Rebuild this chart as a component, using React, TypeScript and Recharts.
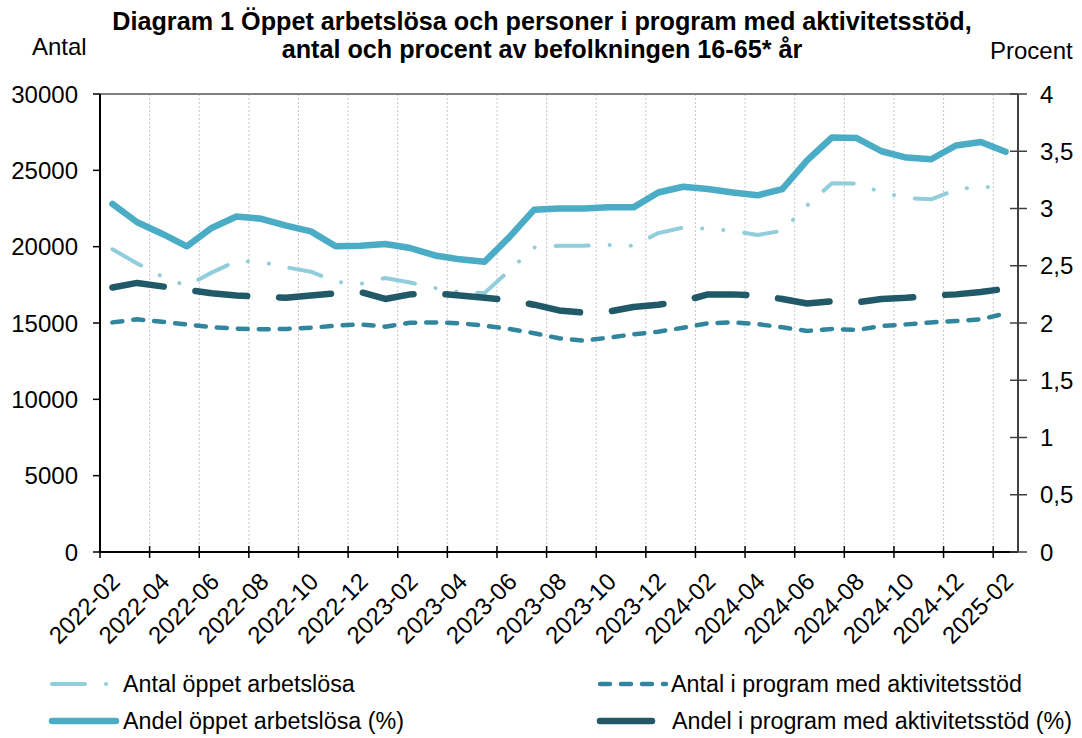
import { LineChart, Line, XAxis, YAxis, CartesianGrid, Legend, ReferenceLine } from 'recharts';

const months = [
  '2022-02', '2022-03', '2022-04', '2022-05', '2022-06', '2022-07', '2022-08', '2022-09', '2022-10', '2022-11', '2022-12',
  '2023-01', '2023-02', '2023-03', '2023-04', '2023-05', '2023-06', '2023-07', '2023-08', '2023-09', '2023-10', '2023-11', '2023-12',
  '2024-01', '2024-02', '2024-03', '2024-04', '2024-05', '2024-06', '2024-07', '2024-08', '2024-09', '2024-10', '2024-11', '2024-12',
  '2025-01', '2025-02',
];

// Antal (vänster axel)
const antalOppet = [
  19830, 18900, 18050, 17420, 18300, 19060, 19000, 18650, 18360, 17690, 17560,
  17950, 17650, 17290, 17030, 16960, 18450, 19950, 20060, 20060, 20110, 20060, 20890,
  21250, 21180, 21030, 20760, 21050, 22700, 24150, 24140, 23560, 23190, 23100, 23740,
  23940, 23800,
];
const antalProgram = [
  15040, 15240, 15080, 14910, 14720, 14630, 14590, 14610, 14690, 14820, 14910,
  14760, 15020, 15040, 14980, 14820, 14610, 14330, 14000, 13840, 14040, 14260, 14430,
  14690, 14980, 15040, 14930, 14720, 14480, 14610, 14540, 14800, 14910, 15040, 15130,
  15240, 15630,
];

// Andel i procent (höger axel)
const andelOppet = [
  3.04, 2.88, 2.78, 2.67, 2.83, 2.93, 2.91, 2.85, 2.8, 2.67, 2.675,
  2.69, 2.655, 2.59, 2.556, 2.535, 2.75, 2.99, 3.0, 3.0, 3.01, 3.01, 3.14,
  3.19, 3.17, 3.14, 3.115, 3.17, 3.42, 3.62, 3.615, 3.5, 3.445, 3.43, 3.55,
  3.58, 3.495,
];
const andelProgram = [
  2.31, 2.35, 2.32, 2.29, 2.26, 2.24, 2.23, 2.22, 2.24, 2.26, 2.27,
  2.21, 2.25, 2.26, 2.24, 2.22, 2.2, 2.16, 2.11, 2.09, 2.1, 2.14, 2.16,
  2.19, 2.25, 2.25, 2.24, 2.21, 2.17, 2.19, 2.18, 2.21, 2.22, 2.24, 2.25,
  2.27, 2.3,
];

const leftTicks = [0, 5000, 10000, 15000, 20000, 25000, 30000];
const rightTicks = [0, 0.5, 1, 1.5, 2, 2.5, 3, 3.5, 4];

const FONT = '"Liberation Sans", Arial, sans-serif';

const series = [
  { key: 'antalOppet', name: 'Antal öppet arbetslösa', axis: 'left', color: '#92CDDC', width: 4, dash: '33 21 0.1 21 0.1 21' },
  { key: 'antalProgram', name: 'Antal i program med aktivitetsstöd', axis: 'left', color: '#31859C', width: 4.5, dash: '10 11' },
  { key: 'andelOppet', name: 'Andel öppet arbetslösa (%)', axis: 'right', color: '#4BACC6', width: 6.5, dash: undefined },
  { key: 'andelProgram', name: 'Andel i program med aktivitetsstöd (%)', axis: 'right', color: '#215968', width: 6.5, dash: '52 32' },
];

const data = months.map((m, i) => ({
  i,
  month: m,
  antalOppet: antalOppet[i],
  antalProgram: antalProgram[i],
  andelOppet: andelOppet[i],
  andelProgram: andelProgram[i],
}));

// månadsgränser varannan månad (tickmarkeringar + stödlinjer), etiketter varannan månad
const bounds = months.map((_, i) => i - 0.5).filter((_, i) => i % 2 === 0);
const labelIdx = months.map((_, i) => i).filter((i) => i % 2 === 0);
const xTicks = [...bounds, ...labelIdx].sort((a, b) => a - b);
const gridBounds = bounds.filter((b) => b > 0);

const fmtPct = (v: number) => String(v).replace('.', ',');

function XTick(props: any) {
  const { x, y, payload } = props;
  const v = payload.value;
  if (Number.isInteger(v)) {
    const x0 = x + 9;
    const y0 = y + 31;
    return (
      <text x={x0} y={y0} textAnchor="end" transform={`rotate(-45 ${x0} ${y0})`}
        fontSize={24} fontFamily={FONT} fill="#000">
        {months[v]}
      </text>
    );
  }
  return <line x1={x} x2={x} y1={y - 6} y2={y + 6} stroke="#000" strokeWidth={1.5} />;
}

function RightTick(props: any) {
  const { x, y, payload } = props;
  const ax = x - 22;
  return (
    <g>
      <line x1={ax - 8} x2={ax + 9} y1={y} y2={y} stroke="#404040" strokeWidth={1.5} />
      <text x={x} y={y} dy="0.355em" textAnchor="start" fontSize={24} fontFamily={FONT} fill="#000">
        {fmtPct(payload.value)}
      </text>
    </g>
  );
}

function LegendIcon({ s }: { s: (typeof series)[number] }) {
  const isAntal = s.axis === 'left';
  const len = s.key === 'andelProgram' ? 52 : s.key === 'andelOppet' ? 64 : s.key === 'antalOppet' ? 56 : 66;
  return (
    <svg width={74} height={14} style={{ position: 'absolute', left: 0, top: -7 }}>
      <line x1={4} x2={4 + len} y1={7} y2={7} stroke={s.color} strokeWidth={isAntal ? s.width : 6.5}
        strokeDasharray={s.key === 'andelProgram' ? undefined : s.dash} strokeLinecap="round" />
    </svg>
  );
}

function LegendBox() {
  const pos: Record<string, { left: number; top: number; text: number }> = {
    antalOppet: { left: 48, top: 30, text: 123 },
    antalProgram: { left: 596, top: 30, text: 671 },
    andelOppet: { left: 48, top: 67, text: 123 },
    andelProgram: { left: 596, top: 67, text: 672 },
  };
  return (
    <div style={{ position: 'relative', width: 1082, height: 84, fontFamily: FONT, fontSize: 23.3, color: '#000' }}>
      {series.map((s) => {
        const p = pos[s.key];
        return (
          <div key={s.key}>
            <div style={{ position: 'absolute', left: p.left, top: p.top }}>
              <LegendIcon s={s} />
            </div>
            <div style={{ position: 'absolute', left: p.text, top: p.top - 14, lineHeight: '28px', whiteSpace: 'nowrap' }}>
              {s.name}
            </div>
          </div>
        );
      })}
    </div>
  );
}

export default function App() {
  return (
    <div style={{ position: 'absolute', left: 0, top: 0, width: 1082, height: 738, background: '#fff', fontFamily: FONT }}>
      <div style={{ position: 'absolute', left: 0, top: 7, width: 1084, textAlign: 'center', fontWeight: 'bold', fontSize: 25.2, lineHeight: '28px', color: '#000' }}>
        Diagram 1 Öppet arbetslösa och personer i program med aktivitetsstöd,
        <br />
        antal och procent av befolkningen 16-65* år
      </div>
      <div style={{ position: 'absolute', left: 32, top: 35, fontSize: 24, lineHeight: '24px', color: '#000' }}>Antal</div>
      <div style={{ position: 'absolute', left: 990, top: 39, fontSize: 24, lineHeight: '24px', color: '#000' }}>Procent</div>
      <LineChart width={1082} height={738} data={data} margin={{ top: 94, right: 0, left: 0, bottom: 0 }}>
        <CartesianGrid horizontal={false} verticalValues={gridBounds} stroke="#C8C8C8" strokeDasharray="2 2" />
        <XAxis dataKey="i" type="number" domain={[-0.5, 36.5]} ticks={xTicks} interval={0}
          tickSize={0} tickMargin={0} tickLine={false} tick={<XTick />} height={102}
          axisLine={{ stroke: '#000', strokeWidth: 2 }} />
        <YAxis yAxisId="left" domain={[0, 30000]} ticks={leftTicks} interval={0} width={100}
          tickSize={7} tickMargin={15} axisLine={{ stroke: '#000', strokeWidth: 2 }}
          tickLine={{ stroke: '#000', strokeWidth: 1.5 }}
          tick={{ fill: '#000', fontSize: 24, fontFamily: FONT }} />
        <YAxis yAxisId="right" orientation="right" domain={[0, 4]} ticks={rightTicks} interval={0} width={64}
          tickSize={9} tickMargin={13} tickLine={false} axisLine={{ stroke: '#404040', strokeWidth: 2 }}
          tick={<RightTick />} />
        <ReferenceLine yAxisId="left" y={30000} stroke="#808080" strokeWidth={2} ifOverflow="visible" />
        {series.map((s) => (
          <Line key={s.key} yAxisId={s.axis} type="linear" dataKey={s.key} name={s.name}
            stroke={s.color} strokeWidth={s.width} strokeDasharray={s.dash}
            strokeLinecap="round" strokeLinejoin="round" dot={false} activeDot={false}
            isAnimationActive={false} />
        ))}
        <Legend verticalAlign="bottom" align="left" content={() => <LegendBox />}
          wrapperStyle={{ left: 0, bottom: 0, width: 1082, height: 84 }} />
      </LineChart>
    </div>
  );
}
